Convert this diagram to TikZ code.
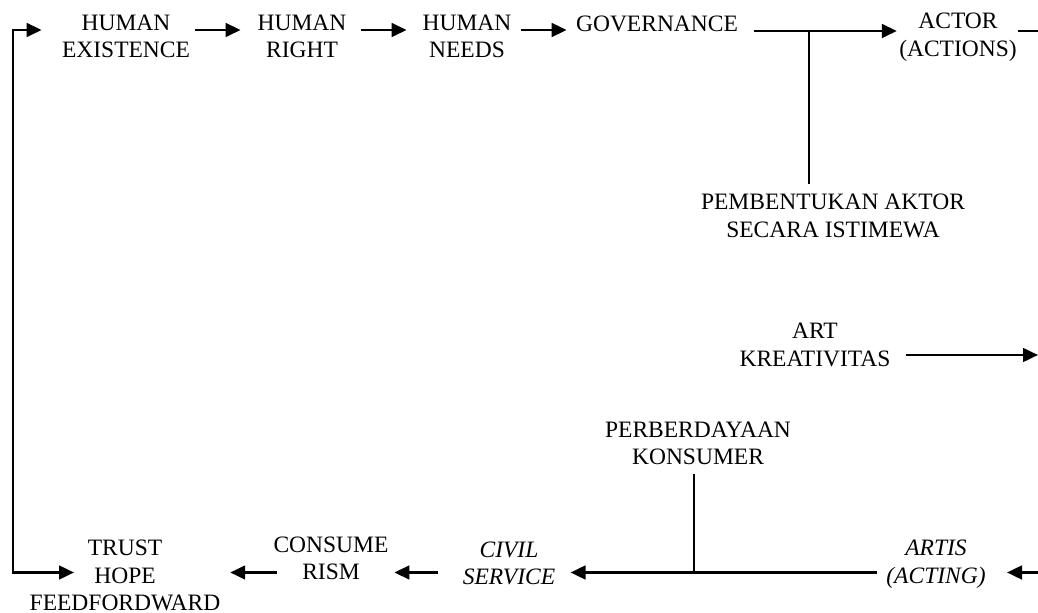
\documentclass[tikz,border=0pt]{standalone}
\usepackage{fontspec}
\setmainfont{Liberation Serif}
\usepackage{tikz}
\usetikzlibrary{arrows.meta,calc}

\begin{document}
\begin{tikzpicture}[x=0.5pt,y=-0.5pt,>={Triangle[length=7.5pt,width=6.8pt]},line width=1.4pt,
  lbl/.style={inner sep=0pt,align=center,font=\fontsize{11.75pt}{13.75pt}\selectfont},
  ilbl/.style={lbl,font=\fontsize{11.75pt}{13.75pt}\selectfont\itshape}]
  \useasboundingbox (0,0) rectangle (1038,613);
  % Rows and edges
  \coordinate (toprow) at (0,30);
  \coordinate (jrow) at (0,31);
  \coordinate (artrow) at (0,355);
  \coordinate (botrow) at (0,572.5);
  \coordinate (lft) at (13,0);
  \coordinate (rgt) at (1038,0);
  % Top row
  \node[lbl] (hex) at (126,36.5) {HUMAN\\EXISTENCE};
  \node[lbl] (hrt) at (302,36.5) {HUMAN\\RIGHT};
  \node[lbl] (hnd) at (467,36.5) {HUMAN\\NEEDS};
  \node[lbl] (gov) at (657,24) {GOVERNANCE};
  \node[lbl] (act) at (958,37) {ACTOR\\(ACTIONS)};
  \draw[->,shorten <=2pt,shorten >=7.8pt] (hex.east |- toprow) -- (hrt.west |- toprow);
  \draw[->,shorten <=6.8pt,shorten >=7.3pt] (hrt.east |- toprow) -- (hnd.west |- toprow);
  \draw[->,shorten <=4.3pt,shorten >=4pt] (hnd.east |- toprow) -- (gov.west |- toprow);
  \draw[->,shorten <=7.5pt,shorten >=0.5pt] (gov.east |- jrow) -- (act.west |- jrow);
  \draw (act.east |- jrow) -- (rgt |- jrow);
  % Branch down to the actor
  \coordinate (jn) at (809,31);
  \node[lbl] (pak) at (833,216) {PEMBENTUKAN AKTOR\\SECARA ISTIMEWA};
  \draw[shorten >=4.5pt] (jn) -- (jn |- pak.north);
  % Art
  \node[lbl] (art) at (815,345) {ART\\KREATIVITAS};
  \draw[->,shorten <=7pt] (art.east |- artrow) -- (rgt |- artrow);
  % Bottom row
  \node[ilbl] (ats) at (936,564) {ARTIS\\(ACTING)};
  \node[ilbl] (civ) at (509,563.5) {CIVIL\\SERVICE};
  \node[lbl] (cns) at (331,558.5) {CONSUME\\RISM};
  \node[lbl] (trust) at (125,575.5) {TRUST\\HOPE\\FEEDFORDWARD};
  \node[lbl] (pbk) at (698,443.5) {PERBERDAYAAN\\KONSUMER};
  \coordinate (jn2) at (694,572.5);
  \draw[->,shorten >=10pt] (rgt |- botrow) -- (ats.east |- botrow);
  \draw[->,shorten <=4pt,shorten >=7pt] (ats.west |- botrow) -- (civ.east |- botrow);
  \draw[shorten <=3.5pt] (pbk.south -| jn2) -- (jn2);
  \draw[->,shorten <=11.5pt,shorten >=2.25pt] (civ.west |- botrow) -- (cns.east |- botrow);
  \draw[->,shorten <=-2.25pt,shorten >=4.25pt] (cns.west |- botrow) -- (trust.east |- botrow);
  % Feedback loop
  \draw[<->,shorten <=9.5pt,shorten >=25.5pt] (hex.west |- toprow) -- (lft |- toprow)
    -- (lft |- botrow) -- (trust.center |- botrow);
\end{tikzpicture}
\end{document}
